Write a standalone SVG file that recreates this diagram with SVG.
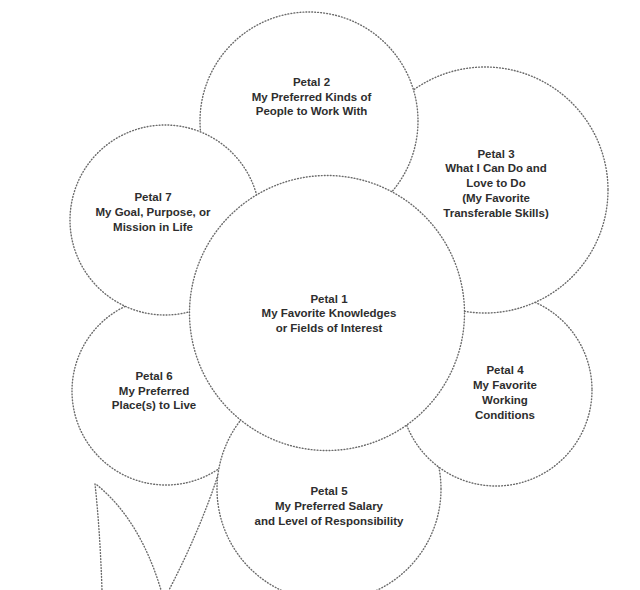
<svg xmlns="http://www.w3.org/2000/svg" width="640" height="590" viewBox="0 0 640 590">
<style>
.petal{fill:#fff;stroke:#6a6a6a;stroke-width:1.4;stroke-dasharray:0.8 2.2;stroke-linecap:round}
.line{fill:none;stroke:#6a6a6a;stroke-width:1.4;stroke-dasharray:0.8 2.2;stroke-linecap:round}
text{font-family:"Liberation Sans",Arial,sans-serif;font-size:11.5px;font-weight:bold;fill:#2e2e2e;text-anchor:middle}
</style>
<rect width="640" height="590" fill="#fff"/>
<g id="stem">
<path class="line" d="M218,475 Q200,530 169,590"/>
<path class="line" d="M95,484 Q100,530 102,590"/>
<path class="line" d="M97,485 Q140,520 161,590"/>
</g>
<g id="petal6">
<circle class="petal" cx="166" cy="391" r="94"/>
<text x="154" y="380">Petal 6</text>
<text x="154" y="394.5">My Preferred</text>
<text x="154" y="409">Place(s) to Live</text>
</g>
<g id="petal5">
<circle class="petal" cx="329" cy="489" r="112"/>
<text x="329" y="495">Petal 5</text>
<text x="329" y="510">My Preferred Salary</text>
<text x="329" y="524.5">and Level of Responsibility</text>
</g>
<g id="petal4">
<circle class="petal" cx="496" cy="390" r="96"/>
<text x="505" y="373.5">Petal 4</text>
<text x="505" y="388.5">My Favorite</text>
<text x="505" y="403.5">Working</text>
<text x="505" y="418.5">Conditions</text>
</g>
<g id="petal3">
<circle class="petal" cx="485" cy="190" r="123"/>
<text x="496" y="157.5">Petal 3</text>
<text x="496" y="172">What I Can Do and</text>
<text x="496" y="187">Love to Do</text>
<text x="496" y="202">(My Favorite</text>
<text x="496" y="217">Transferable Skills)</text>
</g>
<g id="petal2">
<circle class="petal" cx="309" cy="121" r="109"/>
<text x="311.5" y="85.5">Petal 2</text>
<text x="311.5" y="100.5">My Preferred Kinds of</text>
<text x="311.5" y="115">People to Work With</text>
</g>
<g id="petal7">
<circle class="petal" cx="165" cy="220" r="95"/>
<text x="153" y="201">Petal 7</text>
<text x="153" y="216">My Goal, Purpose, or</text>
<text x="153" y="230.5">Mission in Life</text>
</g>
<g id="petal1">
<circle class="petal" cx="327" cy="313" r="137.5"/>
<text x="329" y="302.5">Petal 1</text>
<text x="329" y="317">My Favorite Knowledges</text>
<text x="329" y="331.5">or Fields of Interest</text>
</g>
</svg>
